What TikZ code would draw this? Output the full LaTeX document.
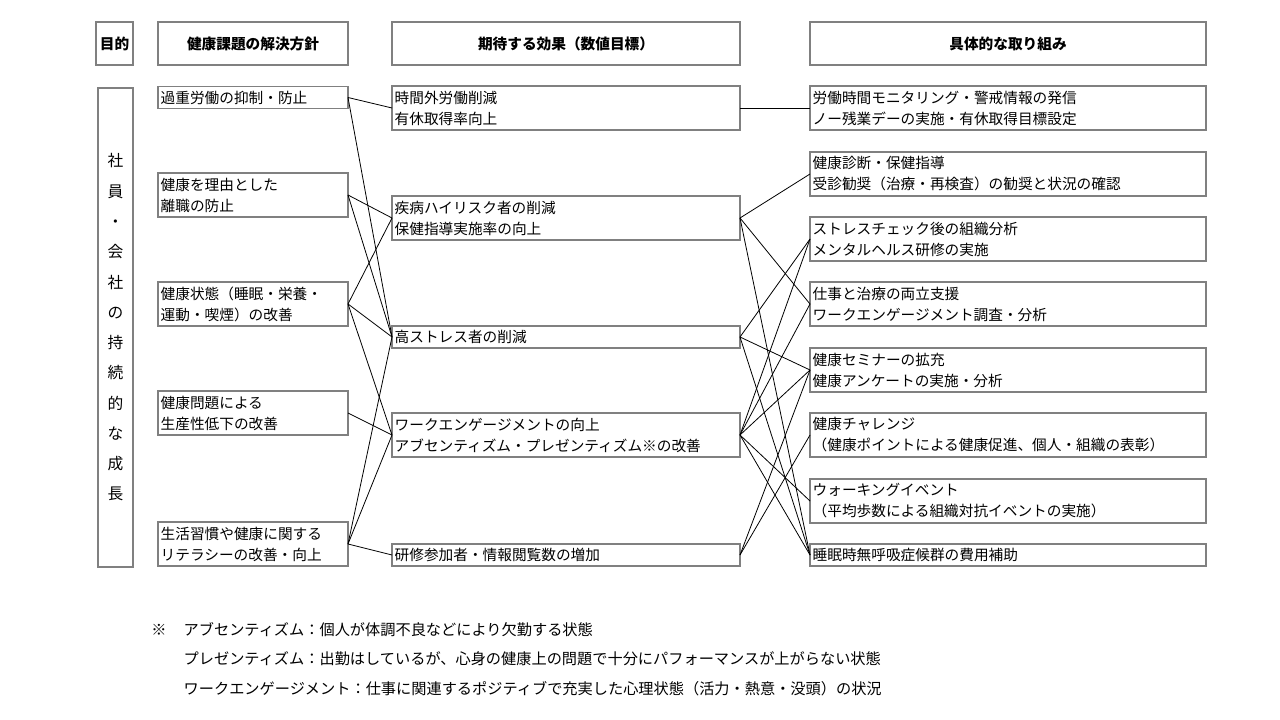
\documentclass[tikz,border=0pt]{standalone}
\usepackage{fontspec}
\setmainfont{Noto Sans CJK JP}
\begin{document}
\begin{tikzpicture}[x=0.75pt,y=-0.75pt,
  every node/.style={font=\fontsize{11pt}{15.75pt}\selectfont, inner sep=2pt, outer sep=0pt},
  frame/.style={draw=black!50, line width=1pt, fill=white},
  head/.style={frame, minimum height=32.25pt, font=\fontsize{11pt}{15.75pt}\selectfont\bfseries},
  lbox/.style={frame, minimum width=142.5pt, text width=138.5pt, minimum height=33pt, align=left},
  mbox/.style={frame, minimum width=261pt, text width=257pt, minimum height=33pt, align=left},
  rbox/.style={frame, minimum width=297pt, text width=293pt, minimum height=33pt, align=left},
  oneline/.style={minimum height=16.5pt},
  note/.style={anchor=west, font=\fontsize{11.4pt}{15.75pt}\selectfont},
  link/.style={draw=black, line width=0.6pt}]
  \useasboundingbox (0,0) rectangle (1280,720);
            % headers
            \node[head, minimum width=27.75pt] (hgoal) at (114.5,43.5) {目的};
            \node[head, minimum width=142.5pt] (hpolicy) at (253,43.5) {健康課題の解決方針};
            \node[head, minimum width=261pt] (heffect) at (566,43.5) {期待する効果（数値目標）};
            \node[head, minimum width=297pt] (haction) at (1008,43.5) {具体的な取り組み};
            % goal
            \node[frame, minimum width=26.25pt, minimum height=359.25pt, text width=12pt, align=center,
                  font=\fontsize{11.8pt}{22.7pt}\selectfont] (goal) at (115.5,327.5)
                  {社\\員\\・\\会\\社\\の\\持\\続\\的\\な\\成\\長};
            % policies
            \node[lbox, oneline] (l1) at (253,97.5) {過重労働の抑制・防止};
            \node[lbox] (l2) at (253,195) {健康を理由とした\\離職の防止};
            \node[lbox] (l3) at (253,304) {健康状態（睡眠・栄養・\\運動・喫煙）の改善};
            \node[lbox] (l4) at (253,413) {健康問題による\\生産性低下の改善};
            \node[lbox] (l5) at (253,544) {生活習慣や健康に関する\\リテラシーの改善・向上};
            % effects
            \node[mbox] (m1) at (566,108) {時間外労働削減\\有休取得率向上};
            \node[mbox] (m2) at (566,218) {疾病ハイリスク者の削減\\保健指導実施率の向上};
            \node[mbox, oneline] (m3) at (566,337) {高ストレス者の削減};
            \node[mbox] (m4) at (566,435) {ワークエンゲージメントの向上\\アブセンティズム・プレゼンティズム※の改善};
            \node[mbox, oneline] (m5) at (566,555) {研修参加者・情報閲覧数の増加};
            % actions
            \node[rbox] (r1) at (1008,108) {労働時間モニタリング・警戒情報の発信\\ノー残業デーの実施・有休取得目標設定};
            \node[rbox] (r2) at (1008,174) {健康診断・保健指導\\受診勧奨（治療・再検査）の勧奨と状況の確認};
            \node[rbox] (r3) at (1008,239) {ストレスチェック後の組織分析\\メンタルヘルス研修の実施};
            \node[rbox] (r4) at (1008,304) {仕事と治療の両立支援\\ワークエンゲージメント調査・分析};
            \node[rbox] (r5) at (1008,370) {健康セミナーの拡充\\健康アンケートの実施・分析};
            \node[rbox] (r6) at (1008,435) {健康チャレンジ\\（健康ポイントによる健康促進、個人・組織の表彰）};
            \node[rbox] (r7) at (1008,501) {ウォーキングイベント\\（平均歩数による組織対抗イベントの実施）};
            \node[rbox, oneline] (r8) at (1008,555) {睡眠時無呼吸症候群の費用補助};
            % policy -> effect
            \draw[link] (l1.east) -- (m1.west);
            \draw[link] (l1.east) -- (m3.west);
            \draw[link] (l2.east) -- (m2.west);
            \draw[link] (l2.east) -- (m3.west);
            \draw[link] (l3.east) -- (m2.west);
            \draw[link] (l3.east) -- (m3.west);
            \draw[link] (l3.east) -- (m4.west);
            \draw[link] (l4.east) -- (m4.west);
            \draw[link] (l5.east) -- (m3.west);
            \draw[link] (l5.east) -- (m4.west);
            \draw[link] (l5.east) -- (m5.west);
            % effect -> action
            \draw[link] (m1.east) -- (r1.west);
            \draw[link] (m2.east) -- (r2.west);
            \draw[link] (m2.east) -- (r4.west);
            \draw[link] (m2.east) -- (r8.west);
            \draw[link] (m3.east) -- (r3.west);
            \draw[link] (m3.east) -- (r5.west);
            \draw[link] (m3.east) -- (r8.west);
            \draw[link] (m4.east) -- (r3.west);
            \draw[link] (m4.east) -- (r4.west);
            \draw[link] (m4.east) -- (r5.west);
            \draw[link] (m4.east) -- (r7.west);
            \draw[link] (m4.east) -- (r8.west);
            \draw[link] (m5.east) -- (r5.west);
            \draw[link] (m5.east) -- (r6.west);
            % notes
            \node[font=\fontsize{11.4pt}{15.75pt}\selectfont] (mark) at (159,630) {※};
            \node[note] (n1) at (181,630) {アブセンティズム：個人が体調不良などにより欠勤する状態};
            \node[note] (n2) at (181,659) {プレゼンティズム：出勤はしているが、心身の健康上の問題で十分にパフォーマンスが上がらない状態};
            \node[note] (n3) at (181,689) {ワークエンゲージメント：仕事に関連するポジティブで充実した心理状態（活力・熱意・没頭）の状況};
\end{tikzpicture}
\end{document}
